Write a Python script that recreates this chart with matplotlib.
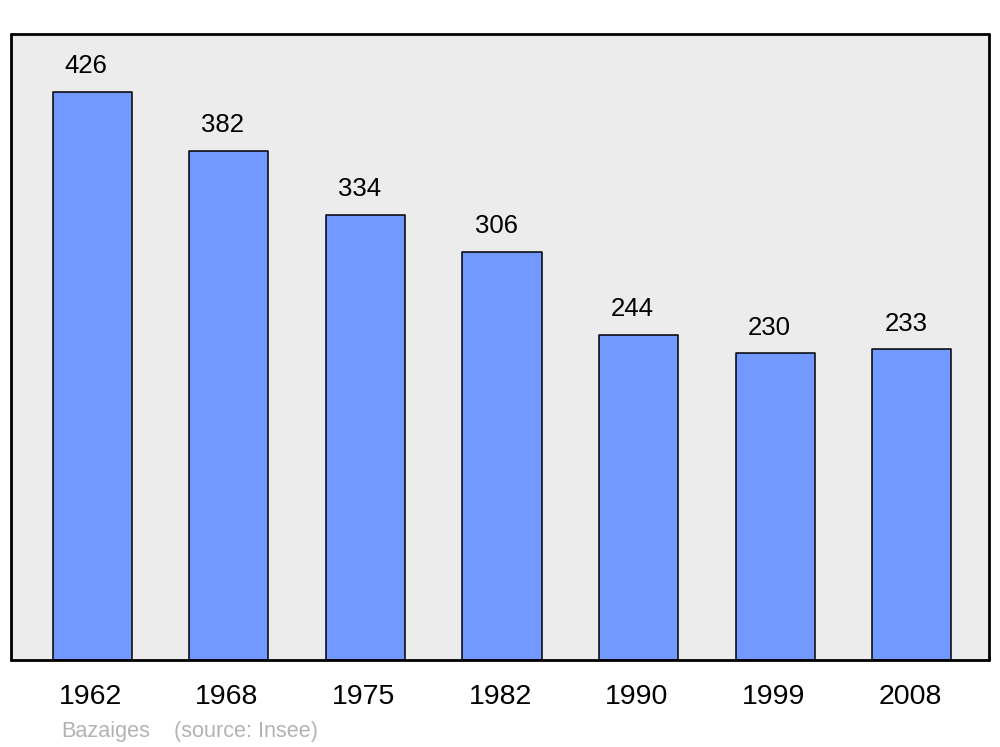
import matplotlib.pyplot as plt
from matplotlib.transforms import ScaledTranslation

plt.rcParams['font.family'] = ['Liberation Sans', 'DejaVu Sans']

years = ['1962', '1968', '1975', '1982', '1990', '1999', '2008']
population = [426, 382, 334, 306, 244, 230, 233]
place = 'Bazaiges'
source = '(source: Insee)'

fig = plt.figure(figsize=(10, 7.47), dpi=100)
ax = fig.add_axes([0.011, 1 - 660 / 747, 0.978, 626 / 747])
ax.set_facecolor('#ececec')

x = range(len(years))
bars = ax.bar(x, population, width=0.58, color='#7299ff', edgecolor='black',
              linewidth=1.1, joinstyle='round')

# labels sit a little left of the bar centre, as in the original
for b, v in zip(bars, population):
    ax.annotate(str(v), (b.get_x() + b.get_width() / 2, v),
                xytext=(-4.3, 13.5), textcoords='offset points',
                ha='center', va='baseline', fontsize=18.5)

ax.set_xlim(-0.595, 6.565)
ax.set_ylim(0, 469.5)
ax.set_yticks([])
ax.set_xticks(list(x))
ax.set_xticklabels(years, fontsize=20.5)
ax.tick_params(axis='x', length=0, pad=17)
shift = ScaledTranslation(-2 / 100, 0, fig.dpi_scale_trans)
for t in ax.get_xticklabels():
    t.set_transform(t.get_transform() + shift)

for s in ax.spines.values():
    s.set_linewidth(2.0)
    s.set_capstyle('round')
    s.set_joinstyle('round')

fig.text(0.061, 1 - 732 / 747, place, color='#b3b3b3', fontsize=15.6, va='center')
fig.text(0.174, 1 - 732 / 747, source, color='#b3b3b3', fontsize=15.6, va='center')

fig.savefig('out.png', dpi=100)
